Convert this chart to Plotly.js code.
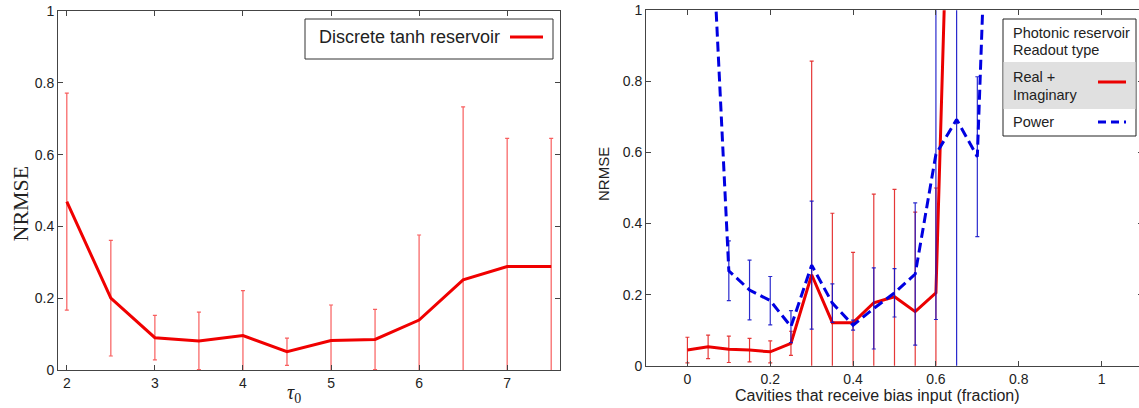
<!DOCTYPE html>
<html>
<head>
<meta charset="utf-8">
<script src="https://cdn.plot.ly/plotly-3.0.1.min.js"></script>
<style>
  html, body { margin: 0; padding: 0; background: #ffffff; overflow: hidden; }
  #chart { width: 1145px; height: 408px; }
</style>
</head>
<body>
<div id="chart"></div>
<script>
// ---- Left panel: discrete tanh reservoir ----
const tau = [2, 2.5, 3, 3.5, 4, 4.5, 5, 5.5, 6, 6.5, 7, 7.5];
const tanhNrmse = [0.469, 0.200, 0.090, 0.081, 0.096, 0.051, 0.082, 0.085, 0.139, 0.251, 0.288, 0.288];
const tanhStd = [0.302, 0.161, 0.062, 0.080, 0.125, 0.038, 0.099, 0.084, 0.237, 0.482, 0.357, 0.357];

// ---- Right panel: photonic reservoir ----
const realImagFrac = [0, 0.05, 0.1, 0.15, 0.2, 0.25, 0.3, 0.35, 0.4, 0.45, 0.5, 0.55, 0.6, 0.65];
const realImagNrmse = [0.044, 0.053, 0.046, 0.044, 0.039, 0.063, 0.256, 0.121, 0.121, 0.177, 0.194, 0.152, 0.205, 2.2];
const realImagStd = [0.036, 0.033, 0.037, 0.033, 0.031, 0.034, 0.601, 0.308, 0.198, 0.306, 0.302, 0.280, 0.295, 0];

const powerFrac = [0.05, 0.1, 0.15, 0.2, 0.25, 0.3, 0.35, 0.4, 0.45, 0.5, 0.55, 0.6, 0.65, 0.7, 0.75];
const powerNrmse = [1.46, 0.267, 0.213, 0.183, 0.110, 0.283, 0.176, 0.114, 0.161, 0.205, 0.258, 0.595, 0.693, 0.588, 2.2];
const powerStd = [0, 0.084, 0.084, 0.068, 0.045, 0.180, 0.054, 0.014, 0.114, 0.068, 0.200, 0.465, 0.75, 0.225, 0];

const yTicks = [0, 0.2, 0.4, 0.6, 0.8, 1];
const xTicksLeft = [2, 3, 4, 5, 6, 7];
const xTicksRight = [0, 0.2, 0.4, 0.6, 0.8, 1];

const W = 1145, H = 408;
const px = v => v / W;
const py = v => 1 - v / H;

const sans = 'Liberation Sans, Arial, sans-serif';
const serif = 'Liberation Serif, DejaVu Serif, serif';

const traces = [
  {
    x: tau, y: tanhNrmse, xaxis: 'x', yaxis: 'y', type: 'scatter', mode: 'lines',
    name: 'Discrete tanh reservoir',
    line: { color: 'rgb(240,0,0)', width: 3 },
    error_y: { type: 'data', array: tanhStd, symmetric: true, color: 'rgba(245,40,40,0.75)', thickness: 1.2, width: 2 },
    showlegend: false
  },
  {
    x: realImagFrac, y: realImagNrmse, xaxis: 'x2', yaxis: 'y2', type: 'scatter', mode: 'lines',
    name: 'Real + Imaginary',
    line: { color: 'rgb(235,0,0)', width: 3 },
    error_y: { type: 'data', array: realImagStd, symmetric: true, color: 'rgba(225,20,20,0.85)', thickness: 1.2, width: 2 },
    showlegend: false
  },
  {
    x: powerFrac, y: powerNrmse, xaxis: 'x2', yaxis: 'y2', type: 'scatter', mode: 'lines',
    name: 'Power',
    line: { color: 'rgb(0,0,225)', width: 3, dash: '10px,5px' },
    error_y: { type: 'data', array: powerStd, symmetric: true, color: 'rgba(20,20,200,0.9)', thickness: 1.2, width: 2 },
    showlegend: false
  }
];

const axisCommon = {
  showgrid: false, zeroline: false, showline: true, linecolor: '#444', linewidth: 1,
  mirror: 'ticks', ticks: 'inside', ticklen: 5, tickcolor: '#444', tickwidth: 1,
  tickfont: { family: sans, size: 14, color: '#222' }, fixedrange: true
};

const layout = {
  width: W, height: H,
  margin: { l: 0, r: 0, t: 0, b: 0 },
  paper_bgcolor: '#ffffff', plot_bgcolor: '#ffffff',
  showlegend: false,
  xaxis: Object.assign({}, axisCommon, { domain: [px(58), px(560)], range: [1.9, 7.6], tickvals: xTicksLeft, anchor: 'y' }),
  yaxis: Object.assign({}, axisCommon, { domain: [1 - 370 / H, 1 - 11 / H], range: [0, 1], tickvals: yTicks, anchor: 'x' }),
  xaxis2: Object.assign({}, axisCommon, { domain: [px(646), px(1143)], range: [-0.1, 1.1], tickvals: xTicksRight, anchor: 'y2' }),
  yaxis2: Object.assign({}, axisCommon, { domain: [1 - 365.7 / H, 1 - 10.3 / H], range: [0, 1], tickvals: yTicks, anchor: 'x2' }),
  shapes: [
    // left legend
    { type: 'rect', xref: 'paper', yref: 'paper', x0: px(305), x1: px(553), y0: py(19), y1: py(59), line: { color: '#333', width: 1 }, fillcolor: '#ffffff' },
    { type: 'line', xref: 'paper', yref: 'paper', x0: px(510), x1: px(543), y0: py(37), y1: py(37), line: { color: 'rgb(240,0,0)', width: 3 } },
    // right legend
    { type: 'rect', xref: 'paper', yref: 'paper', x0: px(1003), x1: px(1136), y0: py(19), y1: py(136), line: { color: '#222', width: 1 }, fillcolor: '#ffffff' },
    { type: 'rect', xref: 'paper', yref: 'paper', x0: px(1003.5), x1: px(1135.5), y0: py(62), y1: py(109), line: { width: 0 }, fillcolor: 'rgb(224,224,224)' },
    { type: 'line', xref: 'paper', yref: 'paper', x0: px(1098), x1: px(1126), y0: py(82), y1: py(82), line: { color: 'rgb(235,0,0)', width: 3 } },
    { type: 'line', xref: 'paper', yref: 'paper', x0: px(1098), x1: px(1126), y0: py(122), y1: py(122), line: { color: 'rgb(0,0,225)', width: 3, dash: '8px,5px' } }
  ],
  annotations: [
    { xref: 'paper', yref: 'paper', x: px(19.5), y: py(204), text: 'NRMSE', textangle: -90, showarrow: false, xanchor: 'center', yanchor: 'middle', font: { family: serif, size: 22, color: '#222' } },
    { xref: 'paper', yref: 'paper', x: px(294), y: py(393), text: '<i>τ</i><sub>0</sub>', showarrow: false, xanchor: 'center', yanchor: 'middle', font: { family: serif, size: 20, color: '#222' } },
    { xref: 'paper', yref: 'paper', x: px(603), y: py(174), text: 'NRMSE', textangle: -90, showarrow: false, xanchor: 'center', yanchor: 'middle', font: { family: sans, size: 15, color: '#222' } },
    { xref: 'paper', yref: 'paper', x: px(877.5), y: py(395.5), text: 'Cavities that receive bias input (fraction)', showarrow: false, xanchor: 'center', yanchor: 'middle', font: { family: sans, size: 16, color: '#222' } },
    { xref: 'paper', yref: 'paper', x: px(317), y: py(37), text: 'Discrete tanh reservoir', showarrow: false, xanchor: 'left', yanchor: 'middle', font: { family: sans, size: 18, color: '#222' } },
    { xref: 'paper', yref: 'paper', x: px(1011), y: py(33.3), text: 'Photonic reservoir', showarrow: false, xanchor: 'left', yanchor: 'middle', font: { family: sans, size: 14.5, color: '#222' } },
    { xref: 'paper', yref: 'paper', x: px(1011), y: py(50), text: 'Readout type', showarrow: false, xanchor: 'left', yanchor: 'middle', font: { family: sans, size: 14.5, color: '#222' } },
    { xref: 'paper', yref: 'paper', x: px(1011), y: py(77.3), text: 'Real +', showarrow: false, xanchor: 'left', yanchor: 'middle', font: { family: sans, size: 14.5, color: '#222' } },
    { xref: 'paper', yref: 'paper', x: px(1011), y: py(95), text: 'Imaginary', showarrow: false, xanchor: 'left', yanchor: 'middle', font: { family: sans, size: 14.5, color: '#222' } },
    { xref: 'paper', yref: 'paper', x: px(1011), y: py(121.7), text: 'Power', showarrow: false, xanchor: 'left', yanchor: 'middle', font: { family: sans, size: 14.5, color: '#222' } }
  ]
};

Plotly.newPlot('chart', traces, layout, { displayModeBar: false, staticPlot: true });
</script>
</body>
</html>
